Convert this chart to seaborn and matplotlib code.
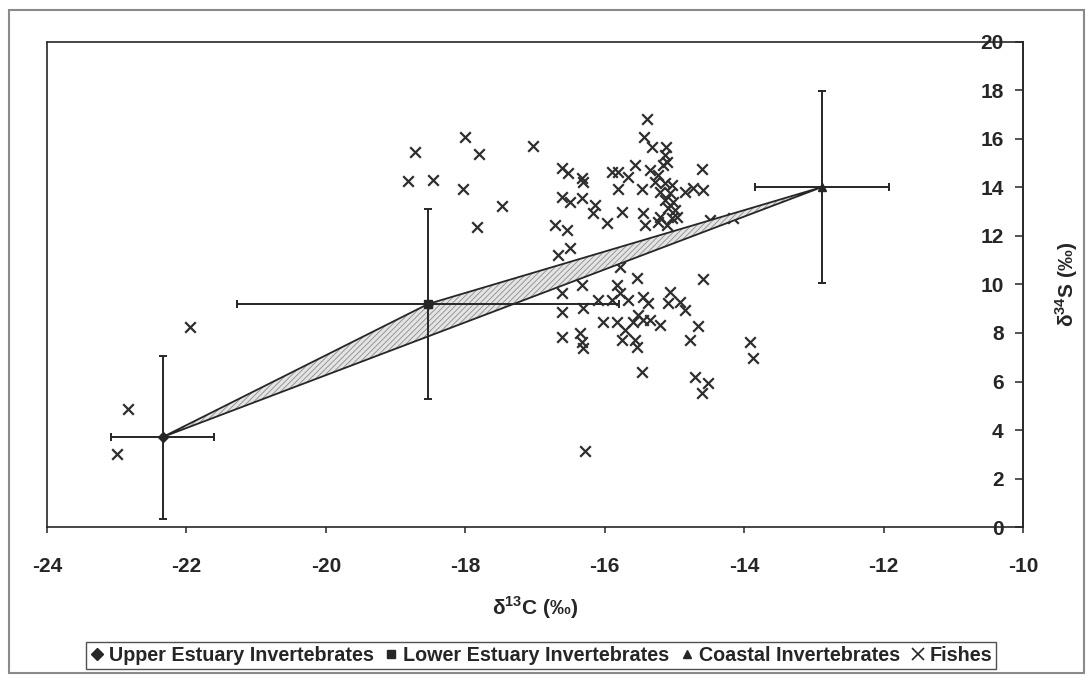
import matplotlib

matplotlib.use("Agg")
import matplotlib.pyplot as plt
import matplotlib.font_manager as fm
from matplotlib.lines import Line2D
from matplotlib.patches import Rectangle
import pandas as pd
import seaborn as sns

# mean +/- sd of the three invertebrate sources
src_names = ["Upper Estuary Invertebrates", "Lower Estuary Invertebrates", "Coastal Invertebrates"]
src_c13 = [-22.34, -18.53, -12.88]
src_s34 = [3.71, 9.20, 14.02]
src_c13_sd = [0.74, 2.74, 0.96]
src_s34_sd = [3.36, 3.92, 3.94]
src_markers = ["D", "s", "^"]

# individual fishes
fish_c13 = [
    -23.00, -22.84, -21.95, -16.28, -18.72, -18.82, -18.46, -18.00, -17.80, -18.03,
    -17.47, -17.83, -17.03, -16.61, -16.53, -16.61, -16.50, -16.71, -16.54, -16.50,
    -16.67, -15.39, -15.44, -15.32, -15.12, -15.13, -16.32, -16.31, -15.89, -15.81,
    -15.56, -15.66, -15.81, -15.46, -15.35, -15.23, -15.16, -15.11, -15.28, -15.13,
    -15.03, -15.21, -15.06, -15.13, -15.02, -15.09, -14.99, -15.21, -15.03, -14.96,
    -14.85, -14.73, -14.59, -14.60, -16.32, -16.14, -16.17, -15.97, -15.75, -15.45,
    -15.42, -15.23, -15.11, -14.49, -14.16, -15.54, -14.59, -16.32, -15.82, -16.61,
    -15.78, -16.09, -15.89, -15.66, -15.45, -15.38, -15.06, -15.09, -14.92, -14.85,
    -16.61, -16.31, -15.52, -15.45, -15.59, -16.02, -15.82, -15.21, -15.35, -14.66,
    -16.61, -16.35, -16.32, -16.31, -15.75, -15.56, -15.54, -15.71, -14.77, -15.46,
    -14.70, -14.52, -14.60, -13.91, -13.87, -15.78,
]
fish_s34 = [
    3.01, 4.87, 8.25, 3.13, 15.46, 14.27, 14.31, 16.08, 15.38, 13.94,
    13.24, 12.37, 15.71, 14.80, 14.60, 13.61, 13.40, 12.45, 12.25, 11.51,
    11.22, 16.82, 16.08, 15.67, 15.67, 15.34, 14.39, 14.23, 14.64, 14.64,
    14.93, 14.43, 13.94, 13.94, 14.72, 14.52, 14.93, 15.05, 14.23, 14.19,
    14.10, 13.81, 13.77, 13.48, 13.40, 13.15, 13.07, 12.78, 12.74, 12.78,
    13.81, 13.98, 13.90, 14.76, 13.57, 13.28, 12.95, 12.54, 12.99, 12.95,
    12.45, 12.58, 12.45, 12.66, 12.74, 10.27, 10.23, 9.98, 9.98, 9.65,
    9.65, 9.36, 9.36, 9.36, 9.48, 9.24, 9.69, 9.24, 9.28, 8.95,
    8.87, 9.03, 8.74, 8.54, 8.45, 8.45, 8.45, 8.33, 8.54, 8.29,
    7.84, 8.00, 7.63, 7.38, 7.71, 7.71, 7.42, 8.12, 7.71, 6.39,
    6.19, 5.94, 5.53, 7.63, 6.97, 10.72,
]

x_ticks = list(range(-24, -9, 2))
y_ticks = list(range(0, 21, 2))

sns.set_theme(style="white")
plt.rcParams["font.family"] = ["Liberation Sans", "DejaVu Sans"]
plt.rcParams["font.weight"] = "bold"
plt.rcParams["mathtext.fontset"] = "custom"
plt.rcParams["mathtext.rm"] = "Liberation Sans:bold"
plt.rcParams["mathtext.bf"] = "Liberation Sans:bold"
plt.rcParams["hatch.linewidth"] = 0.6

installed = {f.name for f in fm.fontManager.ttflist}
if "Liberation Sans Narrow" in installed:
    leg_family, leg_size = ["Liberation Sans Narrow", "DejaVu Sans"], 16
else:
    leg_family, leg_size = ["Liberation Sans", "DejaVu Sans"], 14.2

ink = "#262626"
fish = pd.DataFrame({"c13": fish_c13, "s34": fish_s34})

fig = plt.figure(figsize=(10.9, 6.76), dpi=100, facecolor="white")
ax = fig.add_axes([0.0431, 0.2204, 0.8954, 0.7175])

sns.scatterplot(data=fish, x="c13", y="s34", marker="x", s=58, color="#2e2e2e",
                linewidth=1.6, ax=ax, zorder=2, legend=False)

# mixing polygon between the three source means
ax.fill(src_c13, src_s34, facecolor="#e4e4e4", edgecolor="#8c8c8c", hatch="//////",
        linewidth=0, zorder=3)
ax.fill(src_c13, src_s34, facecolor="none", edgecolor=ink, linewidth=1.3, zorder=3)

for i in range(3):
    ax.errorbar(src_c13[i], src_s34[i], xerr=src_c13_sd[i], yerr=src_s34_sd[i],
                fmt=src_markers[i], color=ink, markersize=5.5, elinewidth=1.4,
                capsize=3, capthick=1.4, zorder=4)

ax.set_xlim(-24, -10)
ax.set_ylim(0, 20)
ax.set_xticks(x_ticks)
ax.set_yticks(y_ticks)
ax.set_xticklabels([str(t) for t in x_ticks])

# y axis crosses at x = -10, labels sit inside the plot like the original
ax.spines["left"].set_position(("data", -10))
for side in ["left", "right", "top", "bottom"]:
    ax.spines[side].set_color(ink)
    ax.spines[side].set_linewidth(1.2)
ax.axvline(-24, color=ink, linewidth=1.2, clip_on=False, zorder=5)
ax.tick_params(axis="x", bottom=True, direction="out", length=4.5, width=1.1,
               color=ink, pad=17, labelsize=15)
ax.tick_params(axis="y", left=True, direction="out", length=6, width=1.1,
               color=ink, pad=8, labelsize=15)

ax.set_xlabel(r"δ$^{13}$C (‰)", fontsize=15, fontweight="bold")
ax.xaxis.set_label_coords(0.5, -0.138)
ax.set_ylabel(r"δ$^{34}$S (‰)", fontsize=15, fontweight="bold")
ax.yaxis.set_label_position("right")
ax.yaxis.set_label_coords(1.045, 0.5)
ax.yaxis.label.set_va("center")
ax.yaxis.label.set_rotation(90)

handles = [Line2D([], [], marker=m, linestyle="none", color=ink, markersize=6)
           for m in src_markers]
handles.append(Line2D([], [], marker="x", linestyle="none", color=ink,
                      markersize=8, markeredgewidth=1.2))
fig.legend(handles, src_names + ["Fishes"], loc="center", bbox_to_anchor=(541 / 1090, 0.0303),
           ncol=4, frameon=True, fancybox=False, edgecolor=ink, handlelength=0.7,
           handletextpad=0.25, columnspacing=0.55, borderpad=0.2, borderaxespad=0,
           prop={"family": leg_family, "size": leg_size, "weight": "bold"})

fig.patches.append(Rectangle((0.0083, 0.0044), 0.986, 0.981, transform=fig.transFigure,
                             fill=False, edgecolor="#8a8a8a", linewidth=1.5))

fig.savefig("out.png", dpi=100, facecolor="white")
plt.close(fig)
